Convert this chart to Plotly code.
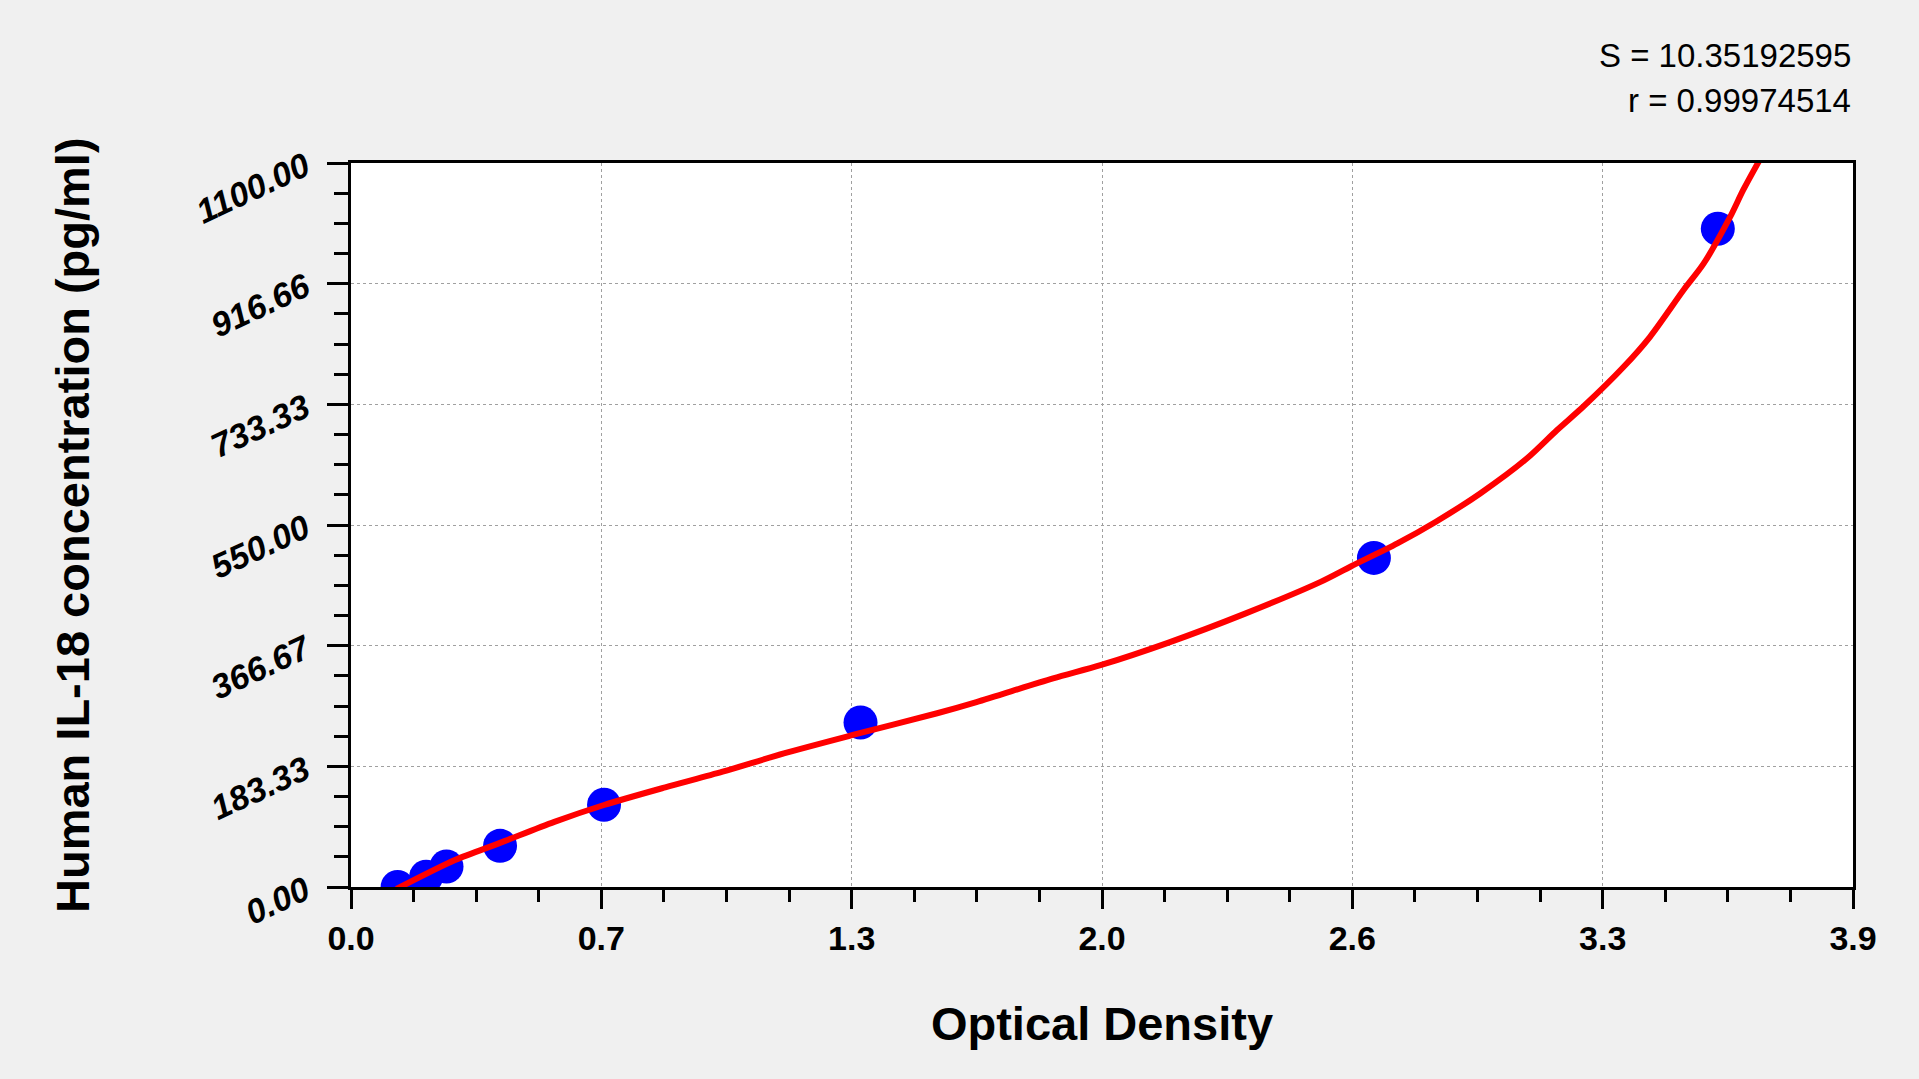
import plotly.graph_objects as go

# standards: optical density vs concentration
od = [0.121, 0.195, 0.248, 0.387, 0.657, 1.323, 2.656, 3.549]
conc = [0.0, 15.625, 31.25, 62.5, 125.0, 250.0, 500.0, 1000.0]

# fitted curve
fit_od = [0.118, 0.270, 0.387, 0.528, 0.657, 0.816, 0.965, 1.124, 1.303, 1.522,
          1.624, 1.823, 1.946, 2.121, 2.320, 2.519, 2.596, 2.717, 2.817, 2.932,
          3.053, 3.131, 3.200, 3.304, 3.373, 3.460, 3.512, 3.581, 3.615, 3.657]
fit_conc = [-3, 41, 67, 99, 124.6, 151.4, 175.2, 203, 231, 264,
            281, 317, 337, 371, 415, 464, 487, 522, 555, 598,
            651, 694, 730, 790, 836, 907, 947, 1018, 1059, 1104]

x_ticks = [0.0, 0.65, 1.3, 1.95, 2.6, 3.25, 3.9]
x_labels = ["0.0", "0.7", "1.3", "2.0", "2.6", "3.3", "3.9"]
y_ticks = [0.0, 183.33, 366.67, 550.0, 733.33, 916.66, 1100.0]
y_labels = ["0.00", "183.33", "366.67", "550.00", "733.33", "916.66", "1100.00"]

s_text = "S = 10.35192595"
r_text = "r = 0.99974514"

FONT = "Liberation Sans, Arial, sans-serif"

fig = go.Figure()

fig.add_trace(go.Scatter(
    x=od, y=conc, mode="markers",
    marker=dict(color="#0000FF", size=34, line=dict(width=0)),
    showlegend=False, hoverinfo="x+y"
))

fig.add_trace(go.Scatter(
    x=fit_od, y=fit_conc, mode="lines",
    line=dict(color="#FF0000", width=6, shape="spline", smoothing=0.8),
    showlegend=False, hoverinfo="skip"
))

fig.update_layout(
    width=1919, height=1079,
    margin=dict(l=351, r=66, t=163, b=192),
    paper_bgcolor="#F0F0F0",
    plot_bgcolor="#FFFFFF",
    font=dict(family=FONT, color="#000000"),
    xaxis=dict(
        range=[0, 3.9],
        tickmode="array", tickvals=x_ticks, ticktext=x_labels,
        ticks="outside", ticklen=19, tickwidth=3, tickcolor="#000000",
        ticklabelstandoff=0,
        tickfont=dict(size=34, weight="bold"),
        showline=True, linewidth=3, linecolor="#000000", mirror=True,
        showgrid=True, gridcolor="#A0A0A0", gridwidth=1, griddash="3px,3px",
        zeroline=False,
        minor=dict(tickmode="linear", tick0=0, dtick=0.1625, ticks="outside",
                   ticklen=12, tickwidth=3, tickcolor="#000000", showgrid=False),
        title=dict(text="Optical Density", font=dict(size=47, weight="bold"), standoff=52),
    ),
    yaxis=dict(
        range=[0, 1100],
        tickmode="array", tickvals=y_ticks, ticktext=y_labels,
        ticks="outside", ticklen=21, tickwidth=3, tickcolor="#000000",
        tickangle=-25, ticklabelstandoff=15,
        tickfont=dict(size=34, weight="bold", style="italic"),
        showline=True, linewidth=3, linecolor="#000000", mirror=True,
        showgrid=True, gridcolor="#A0A0A0", gridwidth=1, griddash="3px,3px",
        zeroline=False,
        minor=dict(tickmode="linear", tick0=0, dtick=1100 / 24, ticks="outside",
                   ticklen=14, tickwidth=3, tickcolor="#000000", showgrid=False),
    ),
    annotations=[
        dict(text="Human IL-18 concentration (pg/ml)", xref="paper", yref="paper",
             x=0, y=0.5, xshift=-279, xanchor="center", yanchor="middle",
             textangle=-90, showarrow=False, font=dict(size=47, weight="bold")),
        dict(text=s_text, xref="paper", yref="paper", x=1, y=1.148,
             xanchor="right", yanchor="middle", showarrow=False,
             font=dict(size=33)),
        dict(text=r_text, xref="paper", yref="paper", x=1, y=1.086,
             xanchor="right", yanchor="middle", showarrow=False,
             font=dict(size=33)),
    ],
)

fig.write_html("out.html", config={"displayModeBar": False},
               post_script="document.body.style.margin='0';")
